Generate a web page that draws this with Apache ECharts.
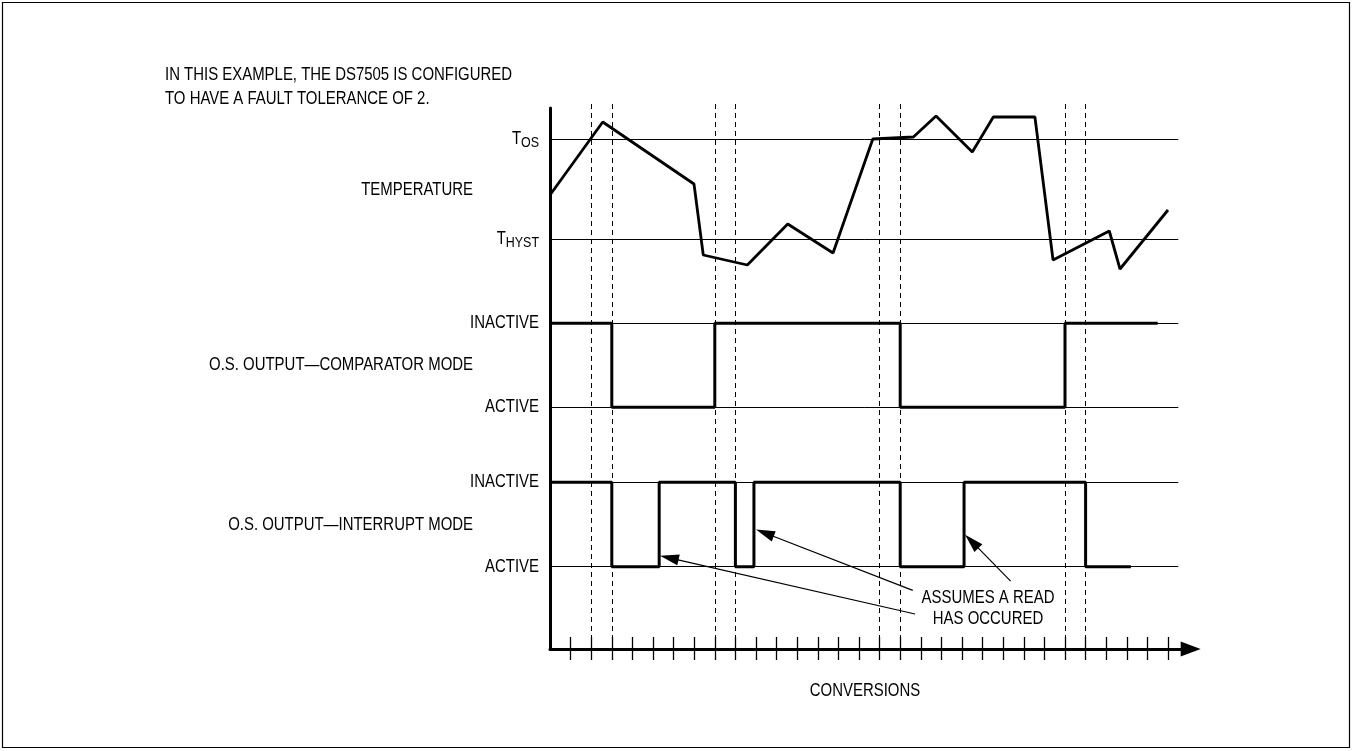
<!DOCTYPE html>
<html><head><meta charset="utf-8">
<script src="https://cdn.jsdelivr.net/npm/echarts@6/dist/echarts.min.js"></script>
<style>html,body{margin:0;padding:0;background:#fff}#c{width:1353px;height:751px}</style>
</head><body><div id="c"></div>
<script>
// ---------------- data ----------------
const conversionTicks = [1,2,3,4,5,6,7,8,9,10,11,12,13,14,15,16,17,18,19,20,21,22,23,24,25,26,27,28,29,30];
const faultDashes = [2,3,8,9,16,17,25,26];
const T_OS = 10, T_HYST = 0;
const tempX = [0, 2.56, 6.99, 7.44, 9.58, 11.54, 13.74, 15.67, 17.64, 18.74, 20.50, 21.52, 23.54, 24.42, 27.15, 27.67, 30.0];
const tempY = [4.4, 11.7, 5.5, -1.6, -2.6, 1.5, -1.4, 10.0, 10.2, 12.3, 8.7, 12.2, 12.2, -2.1, 0.8, -3.0, 2.9];
const levelNames = ['ACTIVE', 'INACTIVE'];
const compX = [0, 3, 8, 17, 25, 29.5];
const compState = [1, 0, 1, 0, 1, 1];
const intX = [0, 3, 5.3, 9, 9.9, 17, 20.1, 26, 28.2];
const intState = [1, 0, 1, 0, 1, 0, 1, 0, 0];
const refLineEnd = 30.5;
const readArrowFrom = [[17.72, -0.56], [17.61, -0.28], [22.36, -0.17]];
const readArrowTo = [[5.34, 0.13], [10.0, 0.44], [20.15, 0.38]];
const noteLines = ['IN THIS EXAMPLE, THE DS7505 IS CONFIGURED', 'TO HAVE A FAULT TOLERANCE OF 2.'];
const panelNames = ['TEMPERATURE', 'O.S. OUTPUT\u2014COMPARATOR MODE', 'O.S. OUTPUT\u2014INTERRUPT MODE'];
const readNote = ['ASSUMES A READ', 'HAS OCCURED'];
const xName = 'CONVERSIONS';

// ---------------- layout ----------------
const FAM = '"Liberation Sans", Arial, sans-serif';
const FONT18 = '18px ' + FAM;
const NARROW = 0.83;
const X0 = 550, PX = 20.6, XMAX = 31.1, W = XMAX * PX;
function grid(top, height) { return {left: X0, top: top, width: W, height: height, containLabel: false, outerBoundsMode: 'none'}; }
function xa(gi, extra) {
  return Object.assign({type: 'value', gridIndex: gi, min: 0, max: XMAX,
    axisLine: {show: false}, axisTick: {show: false}, axisLabel: {show: false}, splitLine: {show: false}}, extra || {});
}
function ya(gi, min, max, extra) {
  return Object.assign({type: 'value', gridIndex: gi, min: min, max: max,
    axisLine: {show: false}, axisTick: {show: false}, axisLabel: {show: false}, splitLine: {show: false}}, extra || {});
}
const black = '#000';

function refLines(levels) {
  return {silent: true, symbol: 'none', animation: false, label: {show: false},
    lineStyle: {color: black, width: 1, type: 'solid'}, emphasis: {disabled: true},
    data: levels.map(l => [{coord: [0, l]}, {coord: [refLineEnd, l]}])};
}

const ARROW_W = 11, ARROW_L = 19;
const option = {
  animation: false,
  backgroundColor: '#fff',
  textStyle: {fontFamily: FAM},
  // 0 axes, 1 ticks, 2 temperature, 3 comparator, 4 interrupt, 5 dashes, 6 arrows (interrupt scale extended)
  grid: [grid(108, 541), grid(108, 541), grid(99, 200), grid(323.3, 84), grid(482.3, 84.4), grid(102, 547), grid(482.3, 168.8)],
  xAxis: [
    xa(0, {axisLine: {show: true, onZero: false, symbol: ['none', 'triangle'], symbolSize: [15, 20], lineStyle: {color: black, width: 3}}}),
    xa(1, {offset: -12, axisTick: {show: true, inside: false, length: 23, customValues: conversionTicks, lineStyle: {color: black, width: 1.3}}}),
    xa(2), xa(3), xa(4), xa(5), xa(6)
  ],
  yAxis: [
    ya(0, 0, 1, {axisLine: {show: true, onZero: false, lineStyle: {color: black, width: 3}}}),
    ya(1, 0, 1),
    ya(2, -6, 14),
    ya(3, 0, 1),
    ya(4, 0, 1),
    ya(5, 0, 1),
    ya(6, -1, 1)
  ],
  series: [
    {type: 'line', xAxisIndex: 5, yAxisIndex: 5, data: [], silent: true,
      markLine: {silent: true, symbol: 'none', animation: false, label: {show: false},
        lineStyle: {color: black, width: 1, type: [5, 4]}, emphasis: {disabled: true},
        data: faultDashes.map(v => ({xAxis: v}))}},
    {type: 'line', xAxisIndex: 2, yAxisIndex: 2, symbol: 'none', clip: false, silent: true, z: 5,
      data: tempX.map((x, i) => [x, tempY[i]]), lineStyle: {color: black, width: 2.8},
      markLine: refLines([T_HYST, T_OS])},
    {type: 'line', xAxisIndex: 3, yAxisIndex: 3, symbol: 'none', clip: false, silent: true, z: 5, step: 'end',
      data: compX.map((x, i) => [x, compState[i]]), lineStyle: {color: black, width: 3},
      markLine: refLines([0, 1])},
    {type: 'line', xAxisIndex: 4, yAxisIndex: 4, symbol: 'none', clip: false, silent: true, z: 5, step: 'end',
      data: intX.map((x, i) => [x, intState[i]]), lineStyle: {color: black, width: 3},
      markLine: refLines([0, 1])},
    {type: 'line', xAxisIndex: 6, yAxisIndex: 6, data: [], silent: true, clip: false, z: 6,
      markLine: {silent: true, animation: false, symbol: ['none', 'triangle'],
        label: {show: false}, lineStyle: {color: black, width: 1.2, type: 'solid'}, emphasis: {disabled: true},
        data: []}}
  ]
};
const chart = echarts.init(document.getElementById('c'), null, {renderer: 'canvas'});
chart.setOption(option);

// ---- annotation arrows: the triangle is centred on the line end, so pull the end back half a head ----
const AX = {xAxisIndex: 6, yAxisIndex: 6};
const arrowData = readArrowFrom.map((f, i) => {
  const tip = chart.convertToPixel(AX, readArrowTo[i]);
  const tail = chart.convertToPixel(AX, f);
  const dx = tip[0] - tail[0], dy = tip[1] - tail[1], len = Math.hypot(dx, dy);
  const c = chart.convertFromPixel(AX, [tip[0] - dx / len * ARROW_L / 2, tip[1] - dy / len * ARROW_L / 2]);
  return [{coord: f, symbol: 'none'}, {coord: c, symbol: 'triangle', symbolSize: [ARROW_W, ARROW_L]}];
});

// ---- texts (narrowed Helvetica-like face), positioned through the axes ----
function txt(x, y, text, align) {
  return {type: 'text', x: x, y: y, scaleX: NARROW, silent: true,
    style: {text: text, font: FONT18, fill: black, align: align, verticalAlign: 'middle'}};
}
const LABEL_GAP = 11;
const g = [];
g.push({type: 'rect', silent: true, shape: {x: 2.5, y: 2.5, width: 1347, height: 745}, style: {fill: null, stroke: black, lineWidth: 1.2}});
g.push(txt(165, 75, noteLines[0], 'left'));
g.push(txt(165, 99, noteLines[1], 'left'));
const labelRight = 473;
g.push(txt(labelRight, 190, panelNames[0], 'right'));
g.push(txt(labelRight, 365.5, panelNames[1], 'right'));
g.push(txt(labelRight, 525, panelNames[2], 'right'));
g.push(txt(988, 598, readNote[0], 'center'));
g.push(txt(988, 619, readNote[1], 'center'));
g.push(txt(865, 691, xName, 'center'));
// threshold labels with subscripts
const subRich = {t: {fontSize: 18, fontFamily: FAM, fill: black}, s: {fontSize: 15, fontFamily: FAM, fill: black, padding: [8, 0, 0, 0]}};
[[T_OS, 'OS'], [T_HYST, 'HYST']].forEach(([v, sub]) => {
  const p = chart.convertToPixel({xAxisIndex: 2, yAxisIndex: 2}, [0, v]);
  g.push({type: 'text', x: p[0] - LABEL_GAP, y: p[1], scaleX: NARROW, silent: true,
    style: {text: '{t|T}{s|' + sub + '}', rich: subRich, align: 'right', verticalAlign: 'middle', fill: black}});
});
// level labels
[3, 4].forEach(ax => {
  [0, 1].forEach(v => {
    const p = chart.convertToPixel({xAxisIndex: ax, yAxisIndex: ax}, [0, v]);
    g.push(txt(p[0] - LABEL_GAP, p[1], levelNames[v], 'right'));
  });
});
chart.setOption({graphic: g, series: [{}, {}, {}, {}, {markLine: {data: arrowData}}]});
</script>
</body></html>
